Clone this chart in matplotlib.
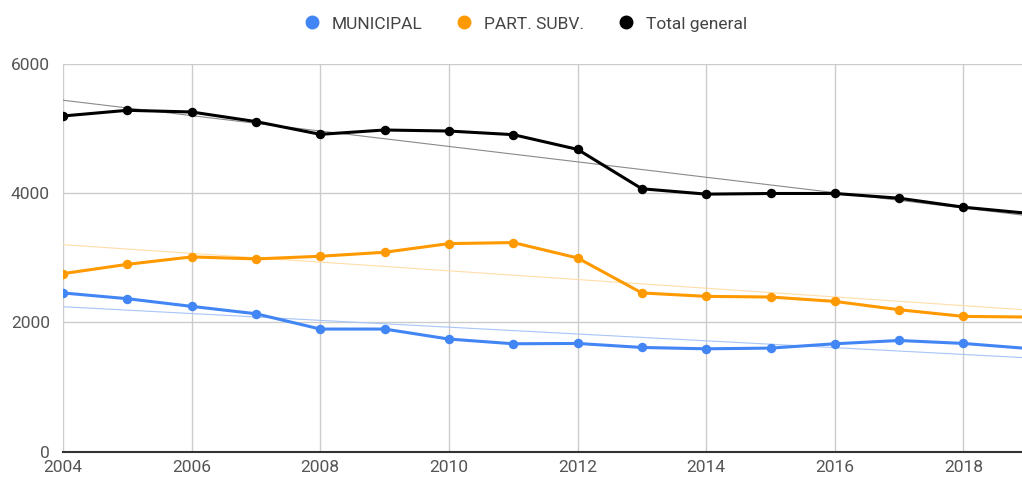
import numpy as np
import matplotlib
matplotlib.use("Agg")
import matplotlib.pyplot as plt
from matplotlib.lines import Line2D

plt.rcParams['font.family'] = ['Roboto', 'DejaVu Sans']

years = [2004, 2005, 2006, 2007, 2008, 2009, 2010, 2011, 2012, 2013,
         2014, 2015, 2016, 2017, 2018, 2019]
municipal = [2455, 2366, 2247, 2133, 1896, 1896, 1741, 1668, 1673, 1611,
             1590, 1601, 1668, 1719, 1673, 1595]
part_subv = [2754, 2898, 3013, 2982, 3023, 3085, 3219, 3235, 2997, 2455,
             2402, 2392, 2324, 2195, 2092, 2082]
total = [5195, 5283, 5257, 5108, 4911, 4978, 4962, 4906, 4678, 4068,
         3985, 3995, 3995, 3922, 3783, 3688]

series_names = ["MUNICIPAL", "PART. SUBV.", "Total general"]
colors = ["#4285F4", "#FF9900", "#000000"]
trend_colors = ["#A8C4F8", "#FFDDA8", "#8A8A8A"]
y_ticks = [0, 2000, 4000, 6000]
x_ticks = [2004, 2006, 2008, 2010, 2012, 2014, 2016, 2018]

fig = plt.figure(figsize=(10.22, 4.80), dpi=100)
ax = fig.add_axes([63/1022, 28.5/480, 1 - 63/1022, (451.5-64)/480])

x = np.array(years, dtype=float)
for vals, tc in zip([municipal, part_subv, total], trend_colors):
    v = np.array(vals, dtype=float)
    m, b = np.polyfit(x, v, 1)
    ax.plot(x, m * x + b, color=tc, lw=0.8, zorder=2)

for vals, c, name in zip([municipal, part_subv, total], colors, series_names):
    ax.plot(years, vals, color=c, lw=2.2, marker='o', markersize=5.8, zorder=3, label=name)

ax.set_xlim(2004, 2018.91)
ax.set_ylim(0, 6000)
ax.set_yticks(y_ticks)
ax.set_xticks(x_ticks)
ax.set_yticklabels([str(t) for t in y_ticks])
ax.set_xticklabels([str(t) for t in x_ticks])
ax.grid(True, color='#CCCCCC', lw=1)
ax.set_axisbelow(True)
for s in ['top', 'right', 'left']:
    ax.spines[s].set_visible(False)
ax.spines['bottom'].set_color('#333333')
ax.spines['bottom'].set_linewidth(1.5)
ax.spines['bottom'].set_zorder(4)
ax.tick_params(axis='both', length=0, labelsize=12.5, colors='#555555')
ax.tick_params(axis='y', pad=9.5)
ax.tick_params(axis='x', pad=6)

handles = [Line2D([0], [0], marker='o', color='none', markerfacecolor=c, markeredgecolor=c,
                  markersize=9) for c in colors]
leg = fig.legend(handles, series_names, loc='center', bbox_to_anchor=(525/1022, 1 - 24/480),
                 ncol=3, frameon=False, fontsize=12.5, handletextpad=0.64, columnspacing=1.9,
                 handlelength=1.0)
for t in leg.get_texts():
    t.set_color('#444444')

fig.savefig("out.png", dpi=100)
